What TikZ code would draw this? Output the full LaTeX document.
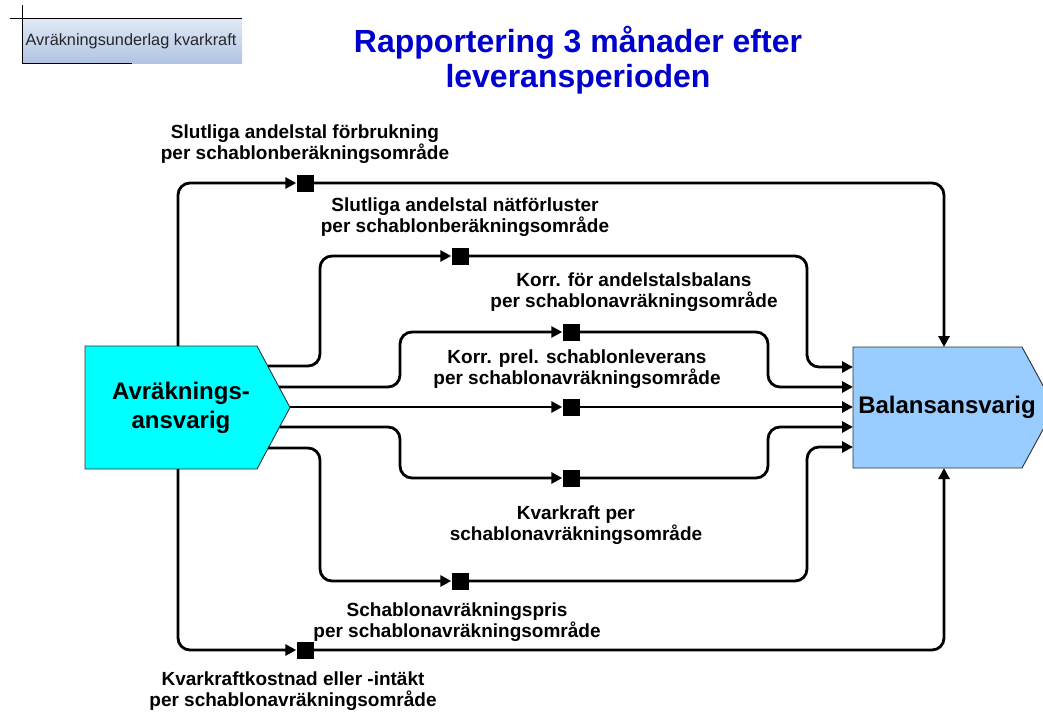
\documentclass[tikz,border=0pt]{standalone}
\usepackage{fontspec}
\setmainfont{Liberation Sans}
\usetikzlibrary{arrows.meta,calc}
\definecolor{titleblue}{RGB}{0,0,204}
\definecolor{avcyan}{RGB}{0,255,255}
\definecolor{balblue}{RGB}{153,204,255}
\definecolor{boxtop}{RGB}{226,234,246}
\definecolor{boxbot}{RGB}{176,196,228}
\definecolor{edge}{RGB}{40,50,60}
\tikzset{
  conn/.style={line width=2.8pt, rounded corners=12pt},
  arr/.style={-{Triangle[length=11pt,width=11pt]}},
  marker/.style={fill=black, minimum size=17pt, inner sep=0pt},
  lbl/.style={font=\fontsize{19}{21.5}\selectfont\bfseries, align=center, inner sep=0pt},
  big/.style={font=\fontsize{24}{29}\selectfont\bfseries, align=center, inner sep=0pt},
  pent/.style={draw=edge, line width=0.9pt},
}
\begin{document}
\begin{tikzpicture}[x=1pt,y=-1pt]
\useasboundingbox (0,0) rectangle (1043,713);
% header box
\shade[top color=boxtop, bottom color=boxbot] (22,18) rectangle (242,63);
\draw[line width=1pt] (10,18) -- (242,18);
\draw[line width=1pt] (22,5) -- (22,63) -- (132,63);
\node[font=\fontsize{16.3}{18}\selectfont, text=black!85] (hdr) at (131,41) {Avräkningsunderlag kvarkraft};
% title
\node[font=\fontsize{32}{35.5}\selectfont\bfseries, text=titleblue, align=center] (title) at (578,60) {Rapportering 3 månader efter\\leveransperioden};
% main shapes
\filldraw[pent, fill=avcyan] (85,346) -- (257,346) -- (290,407.5) -- (257,469) -- (85,469) -- cycle;
\node[big] (av) at (181,407.5) {Avräknings-\\ansvarig};
\filldraw[pent, fill=balblue] (853,347) -- (1022,347) -- (1055,407.5) -- (1022,468) -- (853,468) -- cycle;
\node[big] (bal) at (947,407.5) {Balansansvarig};
% connector ends on the shape borders
\coordinate (atop) at (178,346);
\coordinate (abot) at (178,469);
\coordinate (a2) at (268,366);
\coordinate (a3) at (279,387);
\coordinate (a4) at (290,407);
\coordinate (a5) at (279.5,427);
\coordinate (a6) at (268,448);
\coordinate (btop) at (944,347);
\coordinate (bbot) at (944,468);
\coordinate (b2) at (853,367);
\coordinate (b3) at (853,387);
\coordinate (b4) at (853,407);
\coordinate (b5) at (853,427);
\coordinate (b6) at (853,447);
% markers
\node[marker] (s1) at (305,183) {};
\node[marker] (s2) at (460,256) {};
\node[marker] (s3) at (571,332) {};
\node[marker] (s4) at (571,407) {};
\node[marker] (s5) at (571,478) {};
\node[marker] (s6) at (460,581) {};
\node[marker] (s7) at (305,650) {};
% connectors
\draw[conn,arr] (atop) |- (s1.west);
\draw[conn,arr] (s1.east) -| (btop);
\draw[conn,arr] (a2) -- (320,366) |- (s2.west);
\draw[conn,arr] (s2.east) -| (807,367) -- (b2);
\draw[conn,arr] (a3) -- (400,387) |- (s3.west);
\draw[conn,arr] (s3.east) -| (768,387) -- (b3);
\draw[conn,arr] (a4) -- (s4.west);
\draw[conn,arr] (s4.east) -- (b4);
\draw[conn,arr] (a5) -- (400,427) |- (s5.west);
\draw[conn,arr] (s5.east) -| (768,427) -- (b5);
\draw[conn,arr] (a6) -- (320,448) |- (s6.west);
\draw[conn,arr] (s6.east) -| (807,447) -- (b6);
\draw[conn,arr] (abot) |- (s7.west);
\draw[conn,arr] (s7.east) -| (bbot);
% labels
\node[lbl] (l1) at (305,144) {Slutliga andelstal förbrukning\\per schablonberäkningsområde};
\node[lbl] (l2) at (465,217) {Slutliga andelstal nätförluster\\per schablonberäkningsområde};
\node[lbl] (l3) at (634,292) {Korr. för andelstalsbalans\\per schablonavräkningsområde};
\node[lbl] (l4) at (577,369) {Korr. prel. schablonleverans\\per schablonavräkningsområde};
\node[lbl] (l5) at (576,525) {Kvarkraft per\\schablonavräkningsområde};
\node[lbl] (l6) at (457,622) {Schablonavräkningspris\\per schablonavräkningsområde};
\node[lbl] (l7) at (293,691) {Kvarkraftkostnad eller -intäkt\\per schablonavräkningsområde};
\end{tikzpicture}
\end{document}
